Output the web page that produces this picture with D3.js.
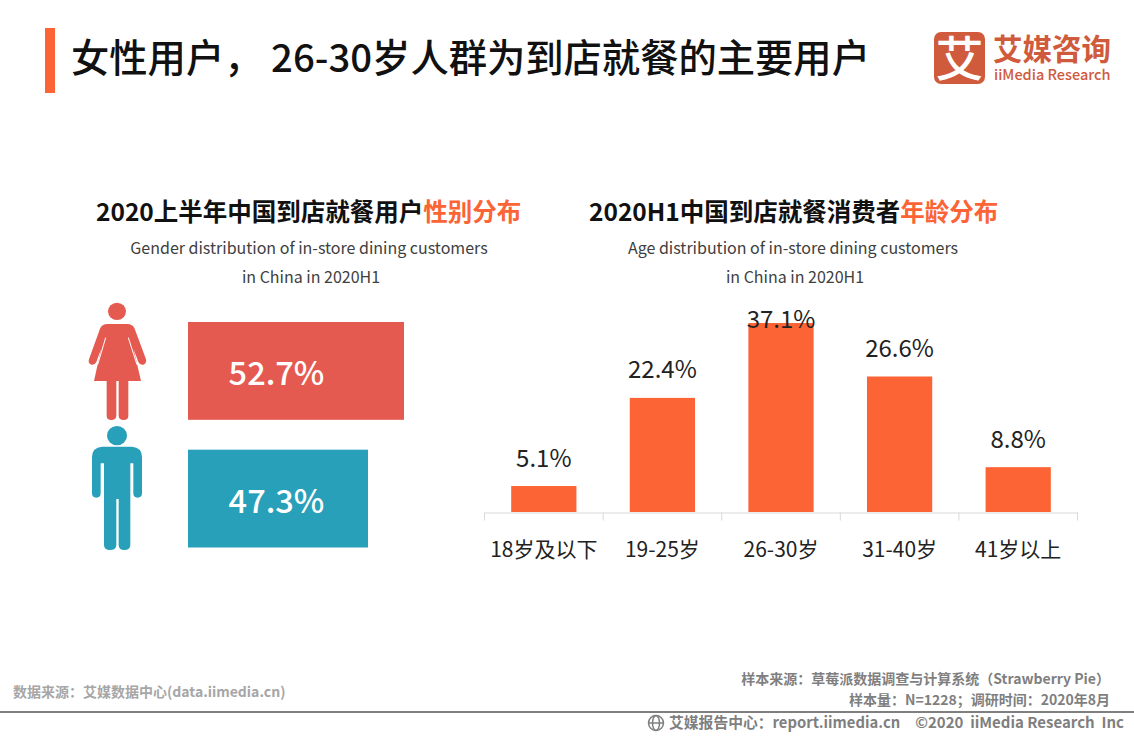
<!DOCTYPE html>
<html>
<head>
<meta charset="utf-8">
<script src="https://cdn.jsdelivr.net/npm/d3@7/dist/d3.min.js"></script>
<style>
  html, body { margin: 0; padding: 0; background: #fff; }
  svg { display: block; font-family: "Noto Sans CJK SC", "Noto Sans", sans-serif; }
</style>
</head>
<body>
<div id="chart"></div>
<script>
const genderNames = ['女性', '男性'];
const genderValues = [52.7, 47.3];
const ageLabels = ['18岁及以下', '19-25岁', '26-30岁', '31-40岁', '41岁以上'];
const ageValues = [5.1, 22.4, 37.1, 26.6, 8.8];

const orange = '#fc6435';
const red = '#e55a50';
const teal = '#28a0b9';

const svg = d3.select('#chart').append('svg').attr('width', 1134).attr('height', 737);

function label(x, y, str, size, color, anchor, weight) {
	return svg.append('text')
		.attr('x', x)
		.attr('y', y)
		.attr('font-size', size)
		.attr('fill', color)
		.attr('text-anchor', anchor || 'start')
		.attr('font-weight', weight || 400)
		.text(str);
}

// header
svg.append('rect').attr('x', 45).attr('y', 28).attr('width', 10).attr('height', 65).attr('fill', orange);
label(71, 72, '女性用户， 26-30岁人群为到店就餐的主要用户', 38.3, '#111', 'start', 500);

// logo
svg.append('rect').attr('x', 934).attr('y', 32).attr('width', 51).attr('height', 52).attr('rx', 7).attr('fill', '#d05a3c');
label(959.5, 76, '艾', 48, '#fff', 'middle', 500);
label(993, 60, '艾媒咨询', 29.5, '#d05a3c', 'start', 700);
label(994, 80, 'iiMedia Research', 14.5, '#d05a3c', 'start', 500);

// panel headings
const leftHead = label(96, 221, '2020上半年中国到店就餐用户', 24.5, '#111', 'start', 700);
leftHead.append('tspan').attr('fill', orange).text('性别分布');
const rightHead = label(589, 221, '2020H1中国到店就餐消费者', 24.5, '#111', 'start', 700);
rightHead.append('tspan').attr('fill', orange).text('年龄分布');

label(309, 254, 'Gender distribution of in-store dining customers', 16, '#404040', 'middle');
label(311, 283, 'in China in 2020H1', 16, '#404040', 'middle');
label(793, 254, 'Age distribution of in-store dining customers', 16, '#404040', 'middle');
label(795, 283, 'in China in 2020H1', 16, '#404040', 'middle');

// gender bars, the reference bar lengths are not zero based
const genderX = d3.scaleLinear().domain([47.3, 52.7]).range([180, 216]);
const genderY = d3.scaleBand().domain(genderNames).range([322, 547.5]).paddingInner(0.234);
const genderColor = d3.scaleOrdinal().domain(genderNames).range([red, teal]);

genderNames.forEach(function (name, i) {
	svg.append('rect')
		.attr('x', 188)
		.attr('y', genderY(name))
		.attr('width', genderX(genderValues[i]))
		.attr('height', genderY.bandwidth())
		.attr('fill', genderColor(name));
	label(276.5, genderY(name) + genderY.bandwidth() / 2 + 14.5, genderValues[i] + '%', 32.5, '#fff', 'middle', 500);
});

// people icons
const icons = svg.append('g').attr('transform', 'translate(70,290) scale(0.3333)');

icons.append('ellipse').attr('cx', 141).attr('cy', 64).attr('rx', 27).attr('ry', 26).attr('fill', red);
icons.append('path')
	.attr('fill', red)
	.attr('d', 'M112,102 H172 Q188,102 194,116 L228,208 Q231,220 220,224 Q210,226 205,216 L191,178 L213,273 H175 V378 Q175,390 161,390 Q147,390 146,378 V273 H139 V378 Q138,390 124,390 Q110,390 110,378 V273 H72 L93,178 L79,216 Q74,226 64,224 Q53,220 57,208 L90,116 Q96,102 112,102 Z');
icons.append('path')
	.attr('fill', 'none')
	.attr('stroke', '#fff')
	.attr('stroke-width', 3)
	.attr('d', 'M107,143 L83,224 M175,143 L201,224');

icons.append('ellipse').attr('cx', 141).attr('cy', 437).attr('rx', 30).attr('ry', 29).attr('fill', teal);
icons.append('path')
	.attr('fill', teal)
	.attr('d', 'M96,470 H186 Q216,472 216,502 V610 Q216,623 203,623 Q190,623 190,610 V520 H181 V765 Q181,780 163,780 Q146,780 146,765 V627 H139 V765 Q139,780 120,780 Q102,780 102,765 V520 H92 V610 Q92,623 79,623 Q66,623 66,610 V502 Q66,472 96,470 Z');

// age bars
const ageX = d3.scaleBand().domain(ageLabels).range([484.5, 1077.5]).paddingInner(0.45).paddingOuter(0.225);
const ageY = d3.scaleLinear().domain([0, 37.1]).range([512, 323]);

svg.selectAll('.age-bar')
	.data(ageValues)
	.join('rect')
	.attr('class', 'age-bar')
	.attr('x', function (d, i) { return ageX(ageLabels[i]); })
	.attr('y', function (d) { return ageY(d); })
	.attr('width', ageX.bandwidth())
	.attr('height', function (d) { return ageY(0) - ageY(d); })
	.attr('fill', orange);

// the tallest label is pushed down onto its bar, as in the reference
svg.selectAll('.age-value')
	.data(ageValues)
	.join('text')
	.attr('class', 'age-value')
	.attr('x', function (d, i) { return ageX(ageLabels[i]) + ageX.bandwidth() / 2; })
	.attr('y', function (d) { return Math.max(ageY(d) - 19.5, 328); })
	.attr('font-size', 24)
	.attr('fill', '#222')
	.attr('text-anchor', 'middle')
	.text(function (d) { return d.toFixed(1) + '%'; });

const axis = svg.append('g')
	.attr('transform', 'translate(0,512.5)')
	.call(d3.axisBottom(ageX).tickSize(0).tickPadding(30));
axis.attr('font-family', null);
axis.select('.domain').attr('stroke', '#d9d9d9');
axis.selectAll('text').attr('font-size', 21).attr('fill', '#222');

// ticks sit on the band edges
const edges = ageLabels.map(function (d) { return ageX(d) - ageX.step() * 0.225; }).concat(1077.5);
axis.selectAll('.edge')
	.data(edges)
	.join('line')
	.attr('class', 'edge')
	.attr('x1', function (d) { return d; })
	.attr('x2', function (d) { return d; })
	.attr('y1', 0)
	.attr('y2', 8)
	.attr('stroke', '#d9d9d9');

// footer
label(13, 697, '数据来源：艾媒数据中心(data.iimedia.cn)', 14, '#a6a6a6', 'start', 700);
label(1110, 684, '样本来源：草莓派数据调查与计算系统（Strawberry Pie）', 14, '#7f7f7f', 'end', 700);
label(1110, 705, '样本量：N=1228；调研时间：2020年8月', 14, '#7f7f7f', 'end', 700);
svg.append('rect').attr('x', 0).attr('y', 711).attr('width', 1134).attr('height', 2).attr('fill', '#7f7f7f');
const globe = svg.append('g').attr('fill', 'none').attr('stroke', '#7f7f7f').attr('stroke-width', 1.5);
globe.append('circle').attr('cx', 656).attr('cy', 723).attr('r', 7.5);
globe.append('ellipse').attr('cx', 656).attr('cy', 723).attr('rx', 3.5).attr('ry', 7.5);
globe.append('path').attr('d', 'M648.5,723 H663.5');
label(669, 728, '艾媒报告中心：report.iimedia.cn', 14.8, '#7f7f7f', 'start', 700);
label(1124, 728, '©2020  iiMedia Research  Inc', 15, '#7f7f7f', 'end', 700).attr('xml:space', 'preserve');
</script>
</body>
</html>
